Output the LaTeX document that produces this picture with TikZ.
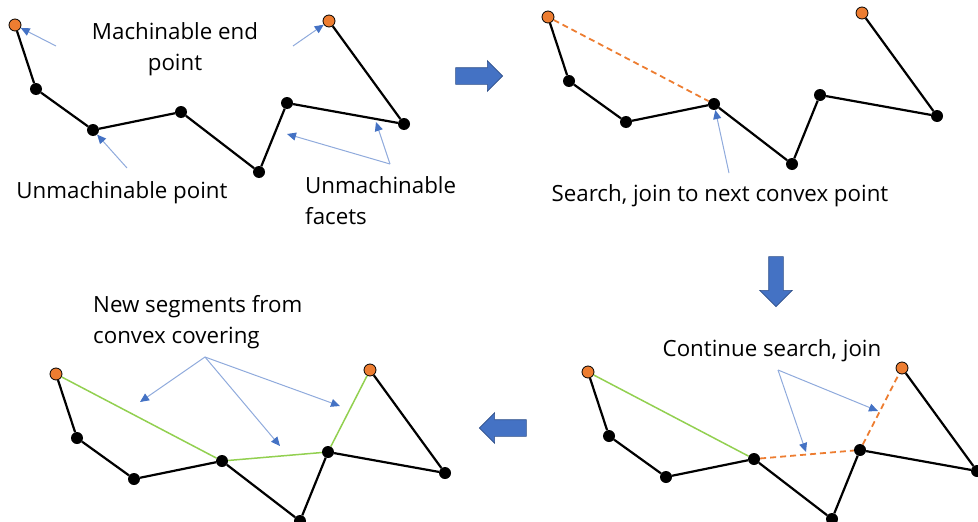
\documentclass[tikz,border=0pt]{standalone}
\usepackage{fontspec}
\setmainfont{Open Sans}
\usetikzlibrary{arrows.meta,shapes.arrows}

\definecolor{endorange}{HTML}{ED7D31}
\definecolor{hullgreen}{HTML}{92D050}
\definecolor{noteblue}{HTML}{8FAADC}
\definecolor{stepblue}{HTML}{4472C4}

\begin{document}
\begin{tikzpicture}[
x=1pt, y=-1pt,
vtx/.style={circle, fill=black, inner sep=0pt, minimum size=12pt},
endvtx/.style={circle, fill=endorange, draw=black, line width=0.8pt, inner sep=0pt, minimum size=12pt},
seg/.style={line width=2.2pt, black},
hull/.style={line width=1.5pt, hullgreen},
dashjoin/.style={line width=1.8pt, endorange, dash pattern=on 6pt off 4pt},
note/.style={noteblue, line width=1pt, -{Triangle[length=9pt, width=8pt, color=stepblue]}},
txt/.style={font=\fontsize{22.3}{31}\selectfont, align=center, inner sep=0pt},
bigarrow/.style={single arrow, fill=stepblue, draw=stepblue!70!black, line width=0.6pt, inner sep=8pt, single arrow head extend=7pt, minimum height=47pt}
]
\useasboundingbox (0,0) rectangle (978,522);

% the same profile in all four steps
\foreach \p/\ox/\oy in {a/15/25, b/548/17, c/56/374, d/588/372} {
  \begin{scope}[shift={(\ox,\oy)}]
  \node[endvtx] (\p0) at (0,0) {};
  \node[vtx] (\p1) at (21,64) {};
  \node[vtx] (\p2) at (78,105) {};
  \node[vtx] (\p3) at (166,87) {};
  \node[vtx] (\p4) at (244,147) {};
  \node[vtx] (\p5) at (272,78) {};
  \node[vtx] (\p6) at (389,99) {};
  \node[endvtx] (\p7) at (314,-4) {};
  \draw[seg] (\p0) -- (\p1) -- (\p2) -- (\p3) -- (\p4) -- (\p5) -- (\p6) -- (\p7);
  \end{scope}
}

% joins
\draw[dashjoin] (b0) -- (b3);
\draw[hull] (c0) -- (c3) -- (c5) -- (c7);
\draw[hull] (d0) -- (d3);
\draw[dashjoin] (d3) -- (d5) -- (d7);

% texts
\node[txt] (endtxt) at (175,49) {Machinable end\\point};
\node[txt] (pointtxt) at (122,193) {Unmachinable point};
\node[txt, align=left, anchor=west] (facettxt) at (305,201) {Unmachinable\\facets};
\node[txt] (searchtxt) at (720,196) {Search, join to next convex point};
\node[txt, align=left, anchor=west] (newtxt) at (93,322) {New segments from\\convex covering};
\node[txt] (conttxt) at (772,351) {Continue search, join};

% pointers
\coordinate (m1) at (56,46);
\coordinate (m2) at (293,46);
\coordinate (u1) at (127,168);
\coordinate (f0) at (390,164);
\coordinate (f1) at (287,134);
\coordinate (f2) at (376,122);
\coordinate (s1) at (729,173);
\coordinate (n0) at (205,357);
\coordinate (n1) at (140,402);
\coordinate (n2) at (280,446);
\coordinate (n3) at (340,406);
\coordinate (k0) at (778,370);
\coordinate (k1) at (806,452);
\coordinate (k2) at (878,411);

\draw[note] (m1) -- (a0);
\draw[note] (m2) -- (a7);
\draw[note] (u1) -- (a2);
\draw[note] (f0) -- (f1);
\draw[note] (f0) -- (f2);
\draw[note] (s1) -- (b3);
\draw[note] (n0) -- (n1);
\draw[note] (n0) -- (n2);
\draw[note] (n0) -- (n3);
\draw[note] (k0) -- (k1);
\draw[note] (k0) -- (k2);

% step arrows
\node[bigarrow] (toright) at (475,76) {};
\node[bigarrow, shape border rotate=270, inner sep=7pt, single arrow head extend=9pt, minimum height=50pt] (todown) at (776,278) {};
\node[bigarrow, shape border rotate=180] (toleft) at (507,428) {};

\end{tikzpicture}
\end{document}
